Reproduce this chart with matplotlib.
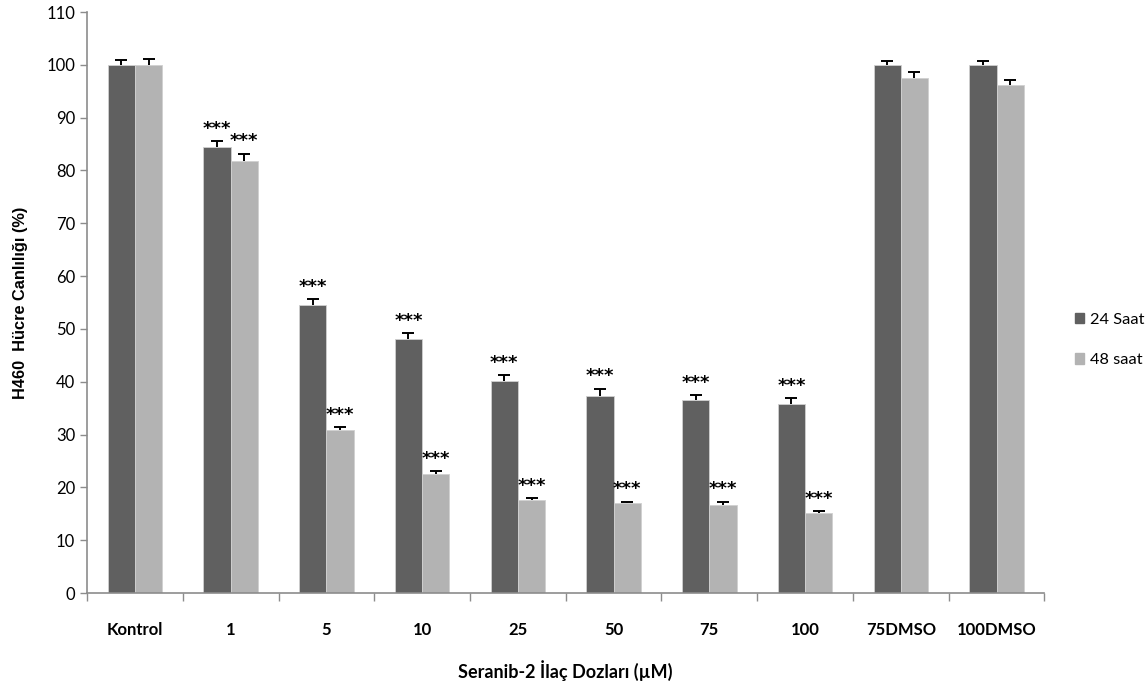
import numpy as np
import matplotlib.pyplot as plt
from matplotlib.patches import Patch

# Doz grupları ve hücre canlılığı (%) değerleri
doses = ['Kontrol', '1', '5', '10', '25', '50', '75', '100', '75DMSO', '100DMSO']
viab_24 = [100, 84.5, 54.6, 48.1, 40.2, 37.3, 36.6, 35.7, 100, 100]
err_24 = [1.0, 1.1, 1.1, 1.1, 1.1, 1.4, 0.9, 1.2, 0.8, 0.8]
viab_48 = [100, 81.8, 30.9, 22.5, 17.6, 17.0, 16.6, 15.2, 97.5, 96.2]
err_48 = [1.1, 1.4, 0.5, 0.6, 0.3, 0.3, 0.7, 0.3, 1.2, 0.9]
sig_24 = ['', '***', '***', '***', '***', '***', '***', '***', '', '']
sig_48 = ['', '***', '***', '***', '***', '***', '***', '***', '', '']

dark = '#606060'
light = '#b3b3b3'
spine_c = '#8c8c8c'

fig = plt.figure(figsize=(11.48, 6.91), dpi=100)
ax = fig.add_axes([0.0758, 0.1418, 0.834, 0.8408])

x = np.arange(len(doses))
w = 0.285


def bars_with_err(xpos, vals, errs, color, sigs):
    ax.bar(xpos, vals, w, color=color, edgecolor='#d0d0d0', linewidth=0.6)
    tops = np.array(vals) + np.array(errs)
    # yalnızca yukarı yönlü hata çubukları
    ax.vlines(xpos, vals, tops, color='black', linewidth=1.4)
    ax.plot(xpos, tops, linestyle='none', marker='_', markersize=8,
            markeredgewidth=1.4, color='black')
    for xi, t, s in zip(xpos, tops, sigs):
        if s:
            ax.text(xi, t + 0.6, s, ha='center', va='bottom', fontsize=13,
                    fontweight='bold')


bars_with_err(x - w / 2, viab_24, err_24, dark, sig_24)
bars_with_err(x + w / 2, viab_48, err_48, light, sig_48)

ax.set_xlim(-0.5, len(doses) - 0.5)
ax.set_ylim(0, 110)
ax.set_yticks(np.arange(0, 111, 10))
ax.tick_params(axis='y', labelsize=12, colors=spine_c, labelcolor='black',
               length=5, width=1)
for lbl in ax.get_yticklabels():
    lbl.set_family('Lato')
ax.set_xticks(np.arange(-0.5, len(doses), 1.0))
ax.set_xticklabels([])
ax.set_xticks(x, minor=True)
ax.set_xticklabels(doses, minor=True, fontsize=12, fontweight='bold',
                   family='Lato')
ax.tick_params(axis='x', which='major', length=6, width=1, colors=spine_c)
ax.tick_params(axis='x', which='minor', length=0, pad=21)
for lbl in ax.get_xticklabels(minor=True):
    lbl.set_color('black')

for s in ['top', 'right']:
    ax.spines[s].set_visible(False)
for s in ['left', 'bottom']:
    ax.spines[s].set_color(spine_c)
    ax.spines[s].set_linewidth(1.2)

ax.set_ylabel('H460  Hücre Canlılığı (%)', fontsize=11.8, fontweight='bold',
              labelpad=13, family='Liberation Sans')
ax.set_xlabel('Seranib-2 İlaç Dozları (µM)', fontsize=13, fontweight='bold',
              family='Lato', labelpad=16)

handles = [Patch(color=dark), Patch(color=light)]
fig.legend(handles, ['24 Saat', '48 saat'], loc='center left',
           bbox_to_anchor=(0.936, 0.508), frameon=False,
           handlelength=0.6, handleheight=0.6, handletextpad=0.35,
           labelspacing=1.6, borderaxespad=0, borderpad=0,
           prop={'family': 'Lato', 'size': 11.8})

fig.savefig('out.png', dpi=100)
